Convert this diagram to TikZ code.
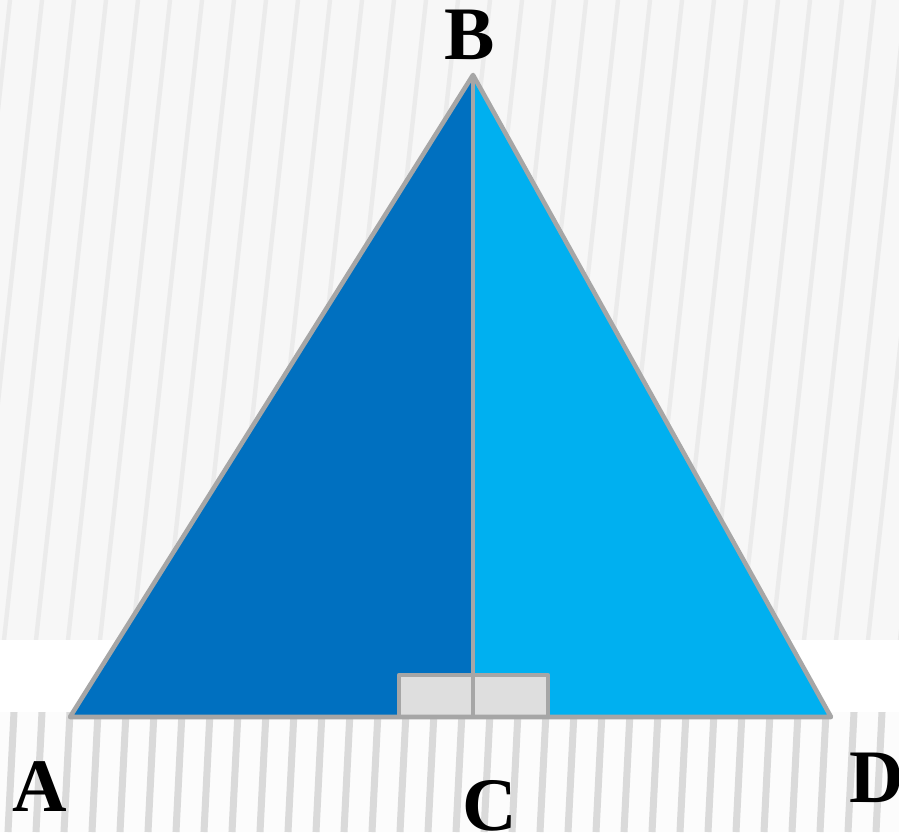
\documentclass[tikz,border=0pt]{standalone}
\usepackage{fontspec}
\setmainfont{Liberation Serif}
\definecolor{darkblue}{HTML}{0070C0}
\definecolor{lightblue}{HTML}{00B0F0}
\definecolor{edgegray}{HTML}{A6A6A6}
\definecolor{boxgray}{HTML}{DEDEDE}
\definecolor{paper}{HTML}{F7F7F7}
\definecolor{stripe}{HTML}{EBEBEB}
\definecolor{stripedark}{HTML}{DADADA}
\begin{document}
\begin{tikzpicture}[x=0.02cm, y=-0.02cm,
  edge/.style={draw=edgegray, line width=2.6pt, line join=round},
  lbl/.style={font=\fontsize{43}{43}\selectfont\bfseries}]
\useasboundingbox (0,0) rectangle (899,832);
% background
\fill[paper] (0,0) rectangle (899,832);
\foreach \x in {-60,-28,...,940}
  \draw[stripe, line width=2.5pt] (\x,640) -- (\x+70,0);
\fill[white!60!paper] (0,712) rectangle (899,832);
\foreach \x in {-20,8,...,920}
  \draw[stripedark, line width=4pt] (\x,832) -- (\x+6,712);
\fill[white] (0,640) rectangle (899,712);
% triangle
\coordinate (a) at (70,717);
\coordinate (b) at (473,75);
\coordinate (c) at (473,717);
\coordinate (d) at (831,717);
\fill[darkblue] (a) -- (b) -- (c) -- cycle;
\fill[lightblue] (b) -- (d) -- (c) -- cycle;
\draw[edge, fill=boxgray] (399,675) rectangle (c);
\draw[edge, fill=boxgray] (c) rectangle (548,675);
\draw[edge] (a) -- (b) -- (d) -- cycle;
\draw[edge] (b) -- (c);
% labels
\node[lbl] (A) at (40,787) {A};
\node[lbl] (B) at (470,35) {B};
\node[lbl] (C) at (490,806) {C};
\node[lbl] (D) at (877,778) {D};
\end{tikzpicture}
\end{document}
